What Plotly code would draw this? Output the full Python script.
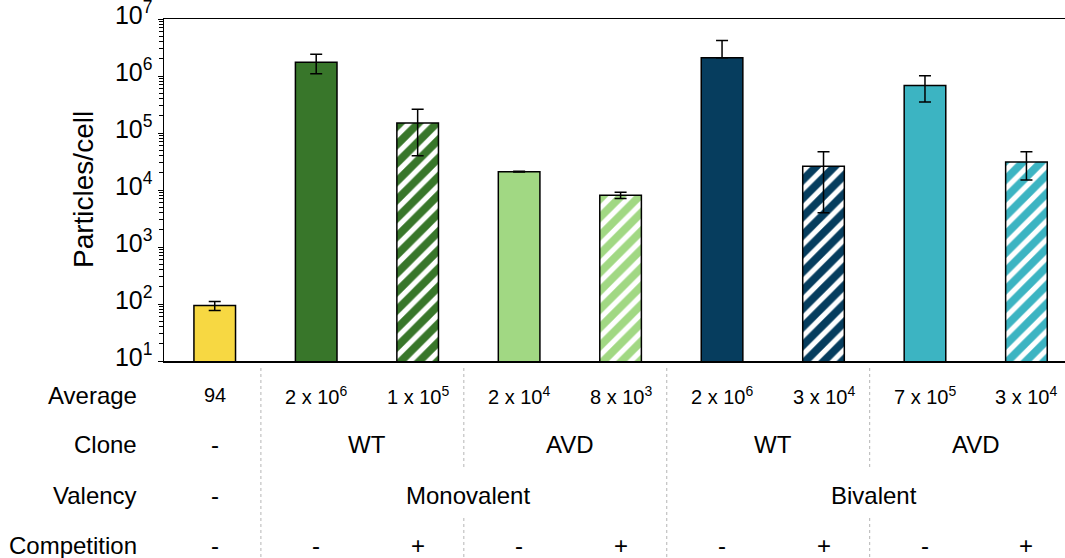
import plotly.graph_objects as go

# ---------------- data ----------------
groups = ["Control", "Mono WT -", "Mono WT +", "Mono AVD -", "Mono AVD +",
          "Bi WT -", "Bi WT +", "Bi AVD -", "Bi AVD +"]
values = [94, 1.75e6, 1.5e5, 2.1e4, 8.1e3, 2.1e6, 2.6e4, 6.8e5, 3.1e4]
err_plus = [17, 6.5e5, 1.1e5, 400, 1000, 2.1e6, 2.1e4, 3.3e5, 1.6e4]
err_minus = [17, 6.5e5, 1.1e5, 400, 1000, 0, 2.2e4, 3.3e5, 1.6e4]
hatched = [False, False, True, False, True, False, True, False, True]
colors = ["#F7D842", "#38762A", "#38762A", "#A1D883", "#A1D883",
          "#063D5E", "#063D5E", "#3CB4C2", "#3CB4C2"]

average_labels = ["94", "2 x 10<sup>6</sup>", "1 x 10<sup>5</sup>", "2 x 10<sup>4</sup>",
                  "8 x 10<sup>3</sup>", "2 x 10<sup>6</sup>", "3 x 10<sup>4</sup>",
                  "7 x 10<sup>5</sup>", "3 x 10<sup>4</sup>"]
clone_labels = [(0, "-"), (1.5, "WT"), (3.5, "AVD"), (5.5, "WT"), (7.5, "AVD")]
valency_labels = [(0, "-"), (2.5, "Monovalent"), (6.5, "Bivalent")]
competition_labels = ["-", "-", "+", "-", "+", "-", "+", "-", "+"]
row_names = ["Average", "Clone", "Valency", "Competition"]

y_tickvals = [1e1, 1e2, 1e3, 1e4, 1e5, 1e6, 1e7]
y_ticktext = ["10<sup>1</sup>", "10<sup>2</sup>", "10<sup>3</sup>", "10<sup>4</sup>",
              "10<sup>5</sup>", "10<sup>6</sup>", "10<sup>7</sup>"]

# ---------------- layout geometry ----------------
W, H = 1065, 558
L, T, B = 164, 19, 197
plot_h = H - T - B
FONT = "Liberation Sans, Arial, sans-serif"


def py(pix):
    """pixel y (from top of window) -> paper y"""
    return (H - B - pix) / plot_h


def px(pix):
    return (pix - L) / (W - L)


fig = go.Figure()

for i, g in enumerate(groups):
    marker = dict(color=colors[i], line=dict(color="black", width=1.5))
    if hatched[i]:
        marker["pattern"] = dict(shape="/", fillmode="replace", bgcolor=colors[i],
                                 fgcolor="white", fgopacity=1, size=13, solidity=0.4)
    fig.add_trace(go.Bar(
        x=[i], y=[values[i]], name=g,
        width=0.41,
        marker=marker,
        error_y=dict(type="data", symmetric=False,
                     array=[err_plus[i]], arrayminus=[err_minus[i]],
                     color="black", thickness=1.5, width=6),
        hoverinfo="skip", showlegend=False,
    ))

annotations = []
row_y = [395, 445, 495, 545]
for name, yy in zip(row_names, row_y):
    annotations.append(dict(xref="paper", yref="paper", x=px(139), y=py(yy),
                            text=name, showarrow=False, xanchor="right",
                            yanchor="middle", font=dict(size=24, family=FONT, color="black")))
for i, t in enumerate(average_labels):
    annotations.append(dict(xref="x", yref="paper", x=i, y=py(395), text=t,
                            showarrow=False, yanchor="middle",
                            font=dict(size=20, family=FONT, color="black")))
for xx, t in clone_labels:
    annotations.append(dict(xref="x", yref="paper", x=xx, y=py(445), text=t,
                            showarrow=False, yanchor="middle",
                            font=dict(size=24, family=FONT, color="black")))
for xx, t in valency_labels:
    annotations.append(dict(xref="x", yref="paper", x=xx, y=py(495), text=t,
                            showarrow=False, yanchor="middle",
                            font=dict(size=24, family=FONT, color="black")))
for i, t in enumerate(competition_labels):
    annotations.append(dict(xref="x", yref="paper", x=i, y=py(545), text=t,
                            showarrow=False, yanchor="middle",
                            font=dict(size=24, family=FONT, color="black")))
# y-axis title
annotations.append(dict(xref="paper", yref="paper", x=px(83), y=py(190),
                        text="Particles/cell", textangle=-90, showarrow=False,
                        xanchor="center", yanchor="middle",
                        font=dict(size=28, family=FONT, color="black")))

# dotted separators in the table
shapes = []
sep_style = dict(color="#b5b5b5", width=1, dash="dot")
full_seps = [0.455, 4.455]
partial_seps = [2.455, 6.455]
for sx in full_seps:
    shapes.append(dict(type="line", xref="x", yref="paper", x0=sx, x1=sx,
                       y0=py(368), y1=py(558), line=sep_style))
for sx in partial_seps:
    shapes.append(dict(type="line", xref="x", yref="paper", x0=sx, x1=sx,
                       y0=py(368), y1=py(468), line=sep_style))
    shapes.append(dict(type="line", xref="x", yref="paper", x0=sx, x1=sx,
                       y0=py(518), y1=py(558), line=sep_style))

fig.update_layout(
    width=W, height=H,
    margin=dict(l=L, r=0, t=T, b=B, autoexpand=False),
    paper_bgcolor="white", plot_bgcolor="white",
    barmode="overlay",
    font=dict(family=FONT, color="black"),
    annotations=annotations,
    shapes=shapes,
    xaxis=dict(range=[-0.5, 8.38], showticklabels=False, ticks="",
               showgrid=False, zeroline=False, showline=True, mirror=True,
               linecolor="black", linewidth=1.5, fixedrange=True, automargin=False),
    yaxis=dict(type="log", range=[1, 7], tickvals=y_tickvals, ticktext=y_ticktext,
               ticks="outside", ticklen=5, tickwidth=1, tickcolor="black",
               minor=dict(ticks="outside", ticklen=4, tickwidth=1, tickcolor="black",
                          dtick="D1", showgrid=False),
               showgrid=False, zeroline=False, showline=True,
               linecolor="black", linewidth=1.5, ticklabeloverflow="allow",
               ticklabelshift=-4, automargin=False,
               tickfont=dict(size=25, family=FONT, color="black"), fixedrange=True),
)

fig.write_html("out.html",
               config={"displayModeBar": False, "staticPlot": True},
               post_script="document.body.style.margin='0px';"
                           "document.body.style.overflow='hidden';")
